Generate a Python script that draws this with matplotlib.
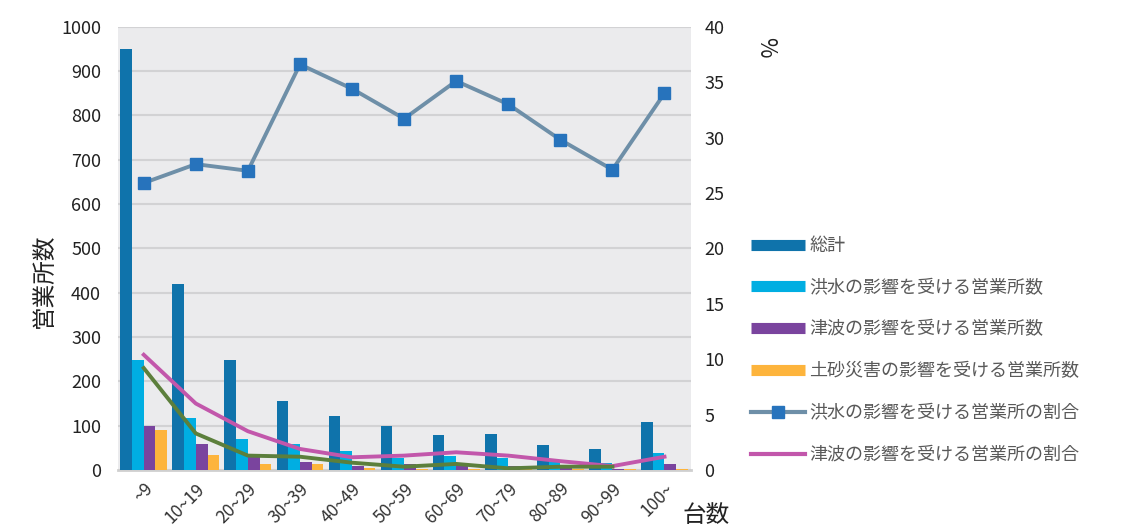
"""
営業所数と災害影響の割合（台数別）
"""

import matplotlib
matplotlib.use("Agg")
import matplotlib.pyplot as plt
from matplotlib.lines import Line2D
import numpy as np

plt.rcParams['font.family'] = ['Noto Sans CJK JP', 'DejaVu Sans']

categories = ['~9', '10~19', '20~29', '30~39', '40~49', '50~59',
              '60~69', '70~79', '80~89', '90~99', '100~']

total = [950, 420, 248, 155, 122, 100, 80, 82, 57, 48, 108]
flood = [248, 118, 69, 59, 44, 28, 32, 27, 20, 15, 39]
tsunami = [99, 58, 31, 19, 10, 13, 12, 10, 5, 3, 13]
landslide = [90, 33, 14, 14, 5, 3, 3, 2, 2, 2, 2]

flood_pct = [25.9, 27.6, 27.0, 36.6, 34.4, 31.7, 35.1, 33.0, 29.8, 27.1, 34.0]
tsunami_pct = [10.4, 6.0, 3.5, 1.9, 1.15, 1.3, 1.6, 1.3, 0.8, 0.35, 1.2]
landslide_pct = [9.2, 3.3, 1.3, 1.2, 0.66, 0.3, 0.55, 0.15, 0.3, 0.3]

bar_labels = ['総計', '洪水の影響を受ける営業所数', '津波の影響を受ける営業所数',
              '土砂災害の影響を受ける営業所数']
line_labels = ['洪水の影響を受ける営業所の割合', '津波の影響を受ける営業所の割合']
bar_colors = ['#0F73AB', '#00AEE2', '#7A449E', '#FDB43C']

fig = plt.figure(figsize=(11.21, 5.29), dpi=100)
ax = fig.add_axes([0.105, 0.1115, 0.511, 0.838])
ax.set_facecolor('#EBEBED')

x = np.arange(len(categories))
w = 0.225
for k, (vals, col) in enumerate(zip([total, flood, tsunami, landslide], bar_colors)):
    ax.bar(x + (k - 1.5) * w, vals, w, color=col, zorder=3)

ax.set_xlim(-0.5, len(categories) - 0.5)
ax.set_ylim(0, 1000)
ax.set_yticks(range(0, 1001, 100))
ax.yaxis.grid(True, color='#D2D2D4', lw=1.5, zorder=0)
ax.set_xticks(x)
ax.set_xticklabels(categories, rotation=45, ha='right', va='top',
                   rotation_mode='anchor', fontsize=12.5, color='#333333')
ax.tick_params(axis='y', labelsize=13, colors='#222222', length=0, pad=12)
ax.tick_params(axis='x', length=0, pad=7)
for s in ['top', 'right', 'left']:
    ax.spines[s].set_visible(False)
ax.spines['bottom'].set_color('#CFCFCF')
ax.spines['bottom'].set_linewidth(2)

# right axis: percentages
ax2 = ax.twinx()
ax2.set_ylim(0, 40)
ax2.set_yticks(range(0, 41, 5))
ax2.tick_params(axis='y', labelsize=13, colors='#222222', length=0, pad=10)
for s in ax2.spines.values():
    s.set_visible(False)
ax2.plot(x, tsunami_pct, color='#C257AB', lw=2.8, zorder=4)
ax2.plot(x[:len(landslide_pct)], landslide_pct, color='#5C7F3C', lw=2.8, zorder=4)
ax2.plot(x, flood_pct, color='#6E8FA8', lw=2.8,
         marker='s', markersize=9, markerfacecolor='#2773BC',
         markeredgecolor='#2773BC', zorder=5)

fig.text(0.04, 0.47, '営業所数', rotation=90, fontsize=17, va='center',
         ha='center', color='#222222')
fig.text(0.683, 0.91, '%', rotation=-90, fontsize=16, va='center',
         ha='center', color='#222222')
fig.text(0.609, 0.025, '台数', fontsize=17, va='center', ha='left',
         color='#222222')

handles = [Line2D([], [], color=c, lw=8, solid_capstyle='butt') for c in bar_colors]
handles.append(Line2D([], [], color='#6E8FA8', lw=3, marker='s', markersize=9,
                      markerfacecolor='#2773BC', markeredgecolor='#2773BC'))
handles.append(Line2D([], [], color='#C257AB', lw=3))
fig.legend(handles, bar_labels + line_labels, loc='upper left',
           bbox_to_anchor=(0.655, 0.583), frameon=False, fontsize=13,
           labelspacing=1.32, handlelength=3.0, handletextpad=0.25,
           labelcolor='#595959')

plt.savefig('out.png', dpi=100)
